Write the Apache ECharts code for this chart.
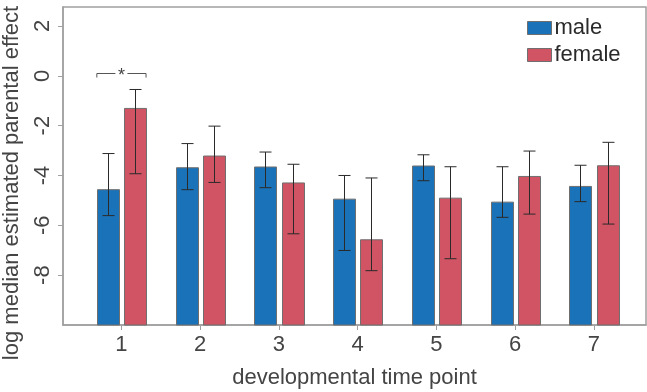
<!DOCTYPE html>
<html>
<head>
<meta charset="utf-8">
<script src="https://cdn.jsdelivr.net/npm/echarts@6/dist/echarts.min.js"></script>
<style>html,body{margin:0;padding:0;background:#fff;}#c{width:647px;height:392px;}</style>
</head>
<body>
<div id="c"></div>
<script>
// ---- data ----
const categories = [1, 2, 3, 4, 5, 6, 7];
const maleMedian = [-4.57, -3.69, -3.66, -4.95, -3.62, -5.07, -4.44];
const maleLow    = [-5.61, -4.57, -4.49, -7.01, -4.21, -5.68, -5.05];
const maleHigh   = [-3.12, -2.72, -3.06, -4.00, -3.17, -3.65, -3.59];
const femaleMedian = [-1.31, -3.22, -4.30, -6.58, -4.91, -4.04, -3.61];
const femaleLow    = [-3.93, -4.28, -6.34, -7.82, -7.34, -5.55, -5.95];
const femaleHigh   = [-0.55, -2.02, -3.55, -4.10, -3.65, -3.02, -2.67];
const yTicks = [-8, -6, -4, -2, 0, 2];
const sigGroups = [1];
const sigLevels = [0.12];
const sigLabels = ['*'];

// ---- style ----
const FONT = "'Liberation Sans', Arial, sans-serif";
const BLUE = '#1a72b9';
const RED = '#d05463';
const Y_MIN = -10, Y_MAX = 2.76;
const BAR_W = 22, OFFSET = 13.6, CAP = 12;

function makeData(med, lo, hi) {
  return categories.map((c, i) => [c, med[i], lo[i], hi[i]]);
}

function barRenderer(color, off) {
  return function (params, api) {
    const x = api.value(0);
    const top = api.coord([x, api.value(1)]);
    const base = api.coord([x, Y_MIN]);
    const lo = api.coord([x, api.value(2)]);
    const hi = api.coord([x, api.value(3)]);
    const cx = Math.round(top[0] + off) + 0.5;
    const lineStyle = { stroke: '#2a2a2a', lineWidth: 1 };
    return {
      type: 'group',
      children: [
        { type: 'rect', shape: { x: cx - BAR_W / 2, y: top[1], width: BAR_W, height: base[1] - top[1] },
          style: { fill: color, stroke: '#6f6f6f', lineWidth: 1 } },
        { type: 'line', shape: { x1: cx, y1: hi[1], x2: cx, y2: lo[1] }, style: lineStyle },
        { type: 'line', shape: { x1: cx - CAP / 2, y1: hi[1], x2: cx + CAP / 2, y2: hi[1] }, style: lineStyle },
        { type: 'line', shape: { x1: cx - CAP / 2, y1: lo[1], x2: cx + CAP / 2, y2: lo[1] }, style: lineStyle }
      ]
    };
  };
}

const chart = echarts.init(document.getElementById('c'), null, { renderer: 'canvas' });
chart.setOption({
  backgroundColor: '#fff',
  animation: false,
  textStyle: { fontFamily: FONT },
  grid: { left: 63, right: 1, top: 7, bottom: 67, containLabel: false, outerBoundsMode: 'none',
          show: true, borderColor: '#a0a0a0', borderWidth: 1.5, backgroundColor: 'transparent' },
  legend: {
    orient: 'vertical', left: 527, top: 17, padding: 0, itemWidth: 24, itemHeight: 13, itemGap: 5,
    textStyle: { fontSize: 22, color: '#2a2a2a', fontFamily: FONT, padding: [0, 0, 0, -2] },
    data: [
      { name: 'male', icon: 'rect', itemStyle: { color: BLUE, borderColor: '#6f6f6f', borderWidth: 1 } },
      { name: 'female', icon: 'rect', itemStyle: { color: RED, borderColor: '#6f6f6f', borderWidth: 1 } }
    ]
  },
  xAxis: {
    type: 'value', min: 0.258, max: 7.661,
    name: 'developmental time point', nameLocation: 'middle', nameGap: 42,
    nameTextStyle: { fontSize: 22, color: '#444', fontFamily: FONT },
    axisLine: { show: true, onZero: false, lineStyle: { color: '#a0a0a0', width: 1.5 } },
    axisTick: { show: true, length: 5, customValues: categories, lineStyle: { color: '#a0a0a0', width: 1 } },
    axisLabel: { customValues: categories, fontSize: 22, color: '#444', margin: 9, fontFamily: FONT },
    splitLine: { show: false }
  },
  yAxis: {
    type: 'value', min: Y_MIN, max: Y_MAX,
    name: 'log median estimated parental effect', nameLocation: 'middle', nameGap: 40,
    nameTextStyle: { fontSize: 22, color: '#444', fontFamily: FONT, padding: [0, 34, 0, 0] },
    axisLine: { show: true, onZero: false, lineStyle: { color: '#a0a0a0', width: 1.5 } },
    axisTick: { show: true, length: 5, customValues: yTicks, lineStyle: { color: '#a0a0a0', width: 1 } },
    axisLabel: { customValues: yTicks, rotate: 90, fontSize: 22, color: '#444', margin: 9, fontFamily: FONT },
    splitLine: { show: false }
  },
  series: [
    { name: 'male', type: 'custom', itemStyle: { color: BLUE }, encode: { x: 0, y: [1, 2, 3] },
      data: makeData(maleMedian, maleLow, maleHigh), renderItem: barRenderer(BLUE, -OFFSET) },
    { name: 'female', type: 'custom', itemStyle: { color: RED }, encode: { x: 0, y: [1, 2, 3] },
      data: makeData(femaleMedian, femaleLow, femaleHigh), renderItem: barRenderer(RED, OFFSET) },
    { name: 'sig', type: 'custom', encode: { x: 0, y: 1 }, silent: true,
      data: sigGroups.map((g, i) => [g, sigLevels[i], sigLabels[i]]),
      renderItem: function (params, api) {
        const c = api.coord([api.value(0), api.value(1)]);
        const cx = c[0], y = Math.round(c[1]) + 0.5;
        const L = cx - OFFSET - BAR_W / 2, R = cx + OFFSET + BAR_W / 2;
        const st = { stroke: '#555', lineWidth: 1 };
        return { type: 'group', children: [
          { type: 'line', shape: { x1: L, y1: y, x2: cx - 6, y2: y }, style: st },
          { type: 'line', shape: { x1: cx + 6, y1: y, x2: R, y2: y }, style: st },
          { type: 'line', shape: { x1: L, y1: y, x2: L, y2: y + 4 }, style: st },
          { type: 'line', shape: { x1: R, y1: y, x2: R, y2: y + 4 }, style: st },
          { type: 'text', x: cx, y: y + 3, style: { text: sigLabels[params.dataIndex], fontSize: 18, fill: '#444', align: 'center', verticalAlign: 'middle', fontFamily: FONT } }
        ] };
      }
    }
  ]
});
</script>
</body>
</html>
